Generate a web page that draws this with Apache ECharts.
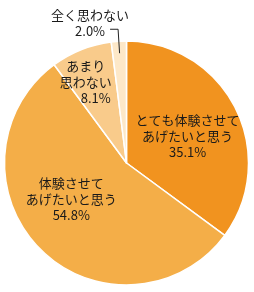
<!DOCTYPE html>
<html>
<head>
<meta charset="utf-8">
<script src="https://cdn.jsdelivr.net/npm/echarts@6/dist/echarts.min.js"></script>
<style>
html,body{margin:0;padding:0;background:#fff;}
#chart{width:254px;height:292px;}
</style>
</head>
<body>
<div id="chart"></div>
<script>
// ---- data ----
const categories = ['とても体験させて\nあげたいと思う', '体験させて\nあげたいと思う', 'あまり\n思わない', '全く思わない'];
const values = [35.1, 54.8, 8.1, 2.0];

// ---- styling ----
const colors = ['#F1931F', '#F4AE48', '#F9CB8B', '#FDE8C8'];
const labelShift = [[4, 2], [-10, -9], [-17, -22], null];
const outsideIndex = 3;
const CX = 126.5, CY = 163, R = 122;
const LINE_LEN = 12, LINE_LEN2 = 8, LINE_START = 110;

const chart = echarts.init(document.getElementById('chart'), null, {renderer: 'canvas'});

const font = '"Noto Sans CJK JP", "Noto Sans", sans-serif';
const rich = {
  t: {fontFamily: font, fontSize: 13, lineHeight: 16, color: '#1a1a1a', align: 'center'},
  p: {fontFamily: font, fontSize: 13, lineHeight: 16, color: '#1a1a1a', align: 'center', padding: [0, 0, 0, 20]}
};
const fmt = p => p.name.split('\n').map(s => '{t|' + s + '}').join('\n') + '\n{t|' + p.value.toFixed(1) + '%}';

// main pie with inside labels
const mainData = categories.map((name, i) => {
  const item = {name: name, value: values[i], itemStyle: {color: colors[i]}};
  if (i === 2) {
    item.label = {formatter: p => p.name.split('\n').map(s => '{t|' + s + '}').join('\n') + '\n{p|' + p.value.toFixed(1) + '%}'};
  }
  if (i === outsideIndex) item.label = {show: false};
  return item;
});

// overlay pie (transparent) carrying the outside label
const overlayData = categories.map((name, i) => {
  const item = {name: name, value: values[i]};
  if (i !== outsideIndex) item.label = {show: false};
  if (i !== outsideIndex) item.labelLine = {show: false};
  return item;
});

// leader line for the outside label, derived from the slice's mid-angle
const total = values.reduce((a, b) => a + b, 0);
const before = values.slice(0, outsideIndex).reduce((a, b) => a + b, 0);
const mid = (before + values[outsideIndex] / 2) / total * Math.PI * 2;
const pt = rho => [CX + rho * Math.sin(mid), CY - rho * Math.cos(mid)];
const p0 = pt(LINE_START), p1 = pt(R + LINE_LEN);
const p2 = [p1[0] + (Math.sin(mid) < 0 ? -LINE_LEN2 : LINE_LEN2), p1[1]];

const common = {
  type: 'pie',
  center: [CX, CY],
  radius: R,
  startAngle: 90,
  clockwise: true,
  avoidLabelOverlap: false,
  emphasis: {disabled: true}
};

chart.setOption({
  animation: false,
  backgroundColor: '#fff',
  graphic: [{
    type: 'polyline',
    z: 100,
    silent: true,
    shape: {points: [p0, p1, p2]},
    style: {stroke: '#222222', lineWidth: 1, fill: null}
  }],
  series: [
    Object.assign({}, common, {
      itemStyle: {borderColor: '#fff', borderWidth: 1.5},
      label: {
        show: true, position: 'inside', overflow: 'none',
        color: '#1a1a1a', fontFamily: font, fontSize: 13, lineHeight: 16,
        formatter: fmt, rich: rich
      },
      labelLine: {show: false},
      labelLayout: function (params) {
        const s = labelShift[params.dataIndex];
        if (!s) return {};
        return {dx: s[0], dy: s[1]};
      },
      data: mainData
    }),
    Object.assign({}, common, {
      silent: true,
      itemStyle: {color: 'rgba(0,0,0,0)', borderWidth: 0},
      label: {
        show: true, position: 'outside', overflow: 'none',
        width: 36, distanceToLabelLine: 2, padding: [0, 0, 12, 0],
        color: '#1a1a1a', fontFamily: font, fontSize: 13, lineHeight: 16,
        formatter: p => '{t|' + p.name + '}\n{t|' + p.value.toFixed(1) + '%}',
        rich: rich
      },
      labelLine: {show: false, length: LINE_LEN, length2: LINE_LEN2},
      data: overlayData
    })
  ]
});
</script>
</body>
</html>
